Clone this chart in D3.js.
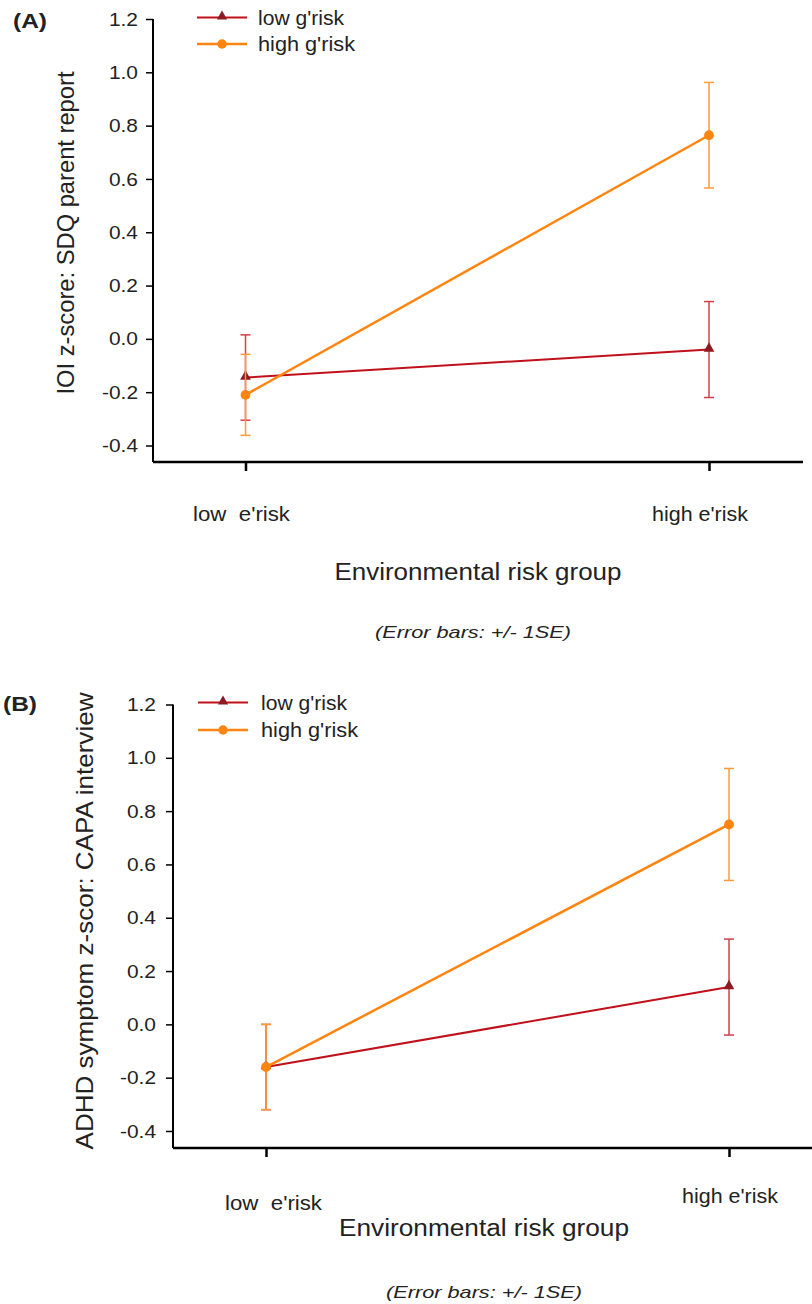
<!DOCTYPE html>
<html><head><meta charset="utf-8">
<script src="https://cdn.jsdelivr.net/npm/d3@7"></script>
<style>body{margin:0;background:#fff}svg{display:block;font-family:"Liberation Sans",Arial,sans-serif}</style>
</head><body><svg id="c" width="812" height="1304"></svg>
<script>
const categories = ["low  e'risk", "high e'risk"];
const seriesNames = ["low g'risk", "high g'risk"];
const yTicks = [-0.4, -0.2, 0.0, 0.2, 0.4, 0.6, 0.8, 1.0, 1.2];
// Panel A: IOI z-score SDQ parent report
const aLowG = [-0.145, -0.04];
const aLowGSE = [0.16, 0.18];
const aHighG = [-0.21, 0.764];
const aHighGSE = [0.152, 0.198];
// Panel B: ADHD symptom z-score CAPA interview
const bLowG = [-0.16, 0.14];
const bLowGSE = [0.16, 0.18];
const bHighG = [-0.16, 0.75];
const bHighGSE = [0.16, 0.21];

const colLow = "#c0101a", colLowMark = "#8b1a22", colLowErr = "#d0404c";
const colHigh = "#ff8510", colHighErr = "#ff9a3a";

const svg = d3.select("#c");

function fit(sel, w) {
  sel.attr("textLength", w).attr("lengthAdjust", "spacingAndGlyphs");
}
function stretch(sel, k) {
  sel.each(function () {
    const L = this.getComputedTextLength();
    d3.select(this).attr("textLength", L * k).attr("lengthAdjust", "spacingAndGlyphs");
  });
}

function panel(cfg) {
  const g = svg.append("g");
  const y = d3.scaleLinear().domain([-0.4, 1.2]).range([cfg.yBottom, cfg.yTop]);
  const x = d3.scalePoint().domain(categories).range([cfg.x0, cfg.x1]);
  // y axis
  const ya = g.append("g").attr("transform", `translate(${cfg.axX},0)`)
    .call(d3.axisLeft(y).tickValues(yTicks).tickSize(7).tickPadding(cfg.tickPad).tickSizeOuter(0));
  ya.select(".domain").attr("d", `M0,${cfg.yTop}V${cfg.axY}`).attr("stroke", "#000").attr("stroke-width", 2);
  ya.selectAll(".tick line").attr("stroke-width", 1.5);
  const tl = ya.selectAll("text").attr("font-size", 19).attr("fill", "#222")
    .attr("font-family", "'Liberation Sans',Arial,sans-serif")
    .text(d => d3.format(".1f")(d).replace("−", "-"));
  stretch(tl, 1.1);
  // x axis
  const xa = g.append("g").attr("transform", `translate(0,${cfg.axY})`)
    .call(d3.axisBottom(x).tickSize(9).tickSizeOuter(0).tickFormat(""));
  xa.select(".domain").attr("d", `M${cfg.axX},0H${cfg.axXEnd}`).attr("stroke", "#000").attr("stroke-width", 2.5);
  xa.selectAll(".tick line").attr("stroke-width", 2.5);
  // x category labels
  g.selectAll(".cl").data(categories).join("text")
    .attr("x", (d, i) => cfg.catX[i]).attr("y", (d, i) => cfg.catY[i])
    .attr("text-anchor", "middle").attr("font-size", 21).attr("fill", "#222")
    .attr("xml:space", "preserve").style("white-space", "pre").text(d => d)
    .each(function (d, i) { fit(d3.select(this), cfg.catW[i]); });
  fit(g.append("text").attr("x", cfg.titleX).attr("y", cfg.titleY).attr("text-anchor", "middle")
    .attr("font-size", 23).attr("fill", "#222").text("Environmental risk group"), cfg.titleW);
  fit(g.append("text").attr("x", cfg.noteX).attr("y", cfg.noteY).attr("text-anchor", "middle")
    .attr("font-size", 17).attr("font-style", "italic").attr("fill", "#222").text("(Error bars: +/- 1SE)"), cfg.noteW);
  // y label
  fit(g.append("text").attr("transform", `translate(${cfg.ylabX},${cfg.ylabY}) rotate(-90)`)
    .attr("text-anchor", "middle").attr("font-size", cfg.ylabFs).attr("fill", "#222").text(cfg.ylab), cfg.ylabW);
  fit(g.append("text").attr("x", cfg.letterX).attr("y", cfg.letterY).attr("font-size", 21)
    .attr("font-weight", "bold").attr("fill", "#222").text(cfg.letter), 34);

  const series = [
    {name: seriesNames[0], vals: cfg.low, se: cfg.lowSE, col: colLow, mark: colLowMark, err: colLowErr, sym: d3.symbolTriangle, w: 2},
    {name: seriesNames[1], vals: cfg.high, se: cfg.highSE, col: colHigh, mark: colHigh, err: colHighErr, sym: d3.symbolCircle, w: 2.5}
  ];
  series.forEach(s => {
    const pts = categories.map((c, i) => ({c, v: s.vals[i], e: s.se[i]}));
    pts.forEach(p => {
      const eg = g.append("g").attr("stroke", s.err).attr("stroke-width", 1.5);
      eg.append("line").attr("x1", x(p.c)).attr("x2", x(p.c)).attr("y1", y(p.v + p.e)).attr("y2", y(p.v - p.e));
      [p.v + p.e, p.v - p.e].forEach(v => eg.append("line").attr("x1", x(p.c) - 5).attr("x2", x(p.c) + 5).attr("y1", y(v)).attr("y2", y(v)));
    });
    g.append("path").datum(pts).attr("fill", "none").attr("stroke", s.col).attr("stroke-width", s.w)
      .attr("d", d3.line().x(p => x(p.c)).y(p => y(p.v)));
    g.selectAll(null).data(pts).join("path")
      .attr("transform", p => `translate(${x(p.c)},${y(p.v) - (s.sym === d3.symbolTriangle ? 1 : 0)})`)
      .attr("d", d3.symbol(s.sym, s.sym === d3.symbolTriangle ? 50 : 75)).attr("fill", s.mark);
  });
  // legend
  series.forEach((s, i) => {
    const ly = cfg.legY[i];
    g.append("line").attr("x1", cfg.legX).attr("x2", cfg.legX + 50).attr("y1", ly).attr("y2", ly)
      .attr("stroke", s.col).attr("stroke-width", s.w);
    g.append("path").attr("transform", `translate(${cfg.legX + 25},${ly - (i === 0 ? 1 : 0)})`)
      .attr("d", d3.symbol(s.sym, i === 0 ? 45 : 70)).attr("fill", s.mark);
    fit(g.append("text").attr("x", cfg.legTX).attr("y", ly + 7).attr("font-size", 20).attr("fill", "#222").text(s.name), cfg.legW[i]);
  });
}

panel({
  letter: "(A)", letterX: 13, letterY: 28,
  axX: 153, axY: 462, axXEnd: 803, yTop: 19, yBottom: 445.5, tickPad: 8,
  x0: 245.5, x1: 709,
  catX: [241.5, 700], catW: [97, 96], catY: [521, 521],
  titleX: 478, titleY: 580, titleW: 287, noteX: 473, noteY: 638, noteW: 196,
  ylab: "IOI z-score: SDQ parent report", ylabX: 74, ylabY: 233, ylabW: 323, ylabFs: 23,
  legX: 197, legTX: 258, legY: [17.5, 44], legW: [86, 97],
  low: aLowG, lowSE: aLowGSE, high: aHighG, highSE: aHighGSE
});
panel({
  letter: "(B)", letterX: 3, letterY: 711,
  axX: 173, axY: 1148, axXEnd: 812, yTop: 704.5, yBottom: 1131, tickPad: 10,
  x0: 266, x1: 729,
  catX: [273.5, 730], catW: [97, 96], catY: [1210, 1203],
  titleX: 484, titleY: 1236, titleW: 290, noteX: 484, noteY: 1298, noteW: 196,
  ylab: "ADHD symptom z-scor: CAPA interview", ylabX: 93, ylabY: 921, ylabW: 457, ylabFs: 24,
  legX: 198, legTX: 261, legY: [702.5, 730], legW: [86, 97],
  low: bLowG, lowSE: bLowGSE, high: bHighG, highSE: bHighGSE
});
</script></body></html>
